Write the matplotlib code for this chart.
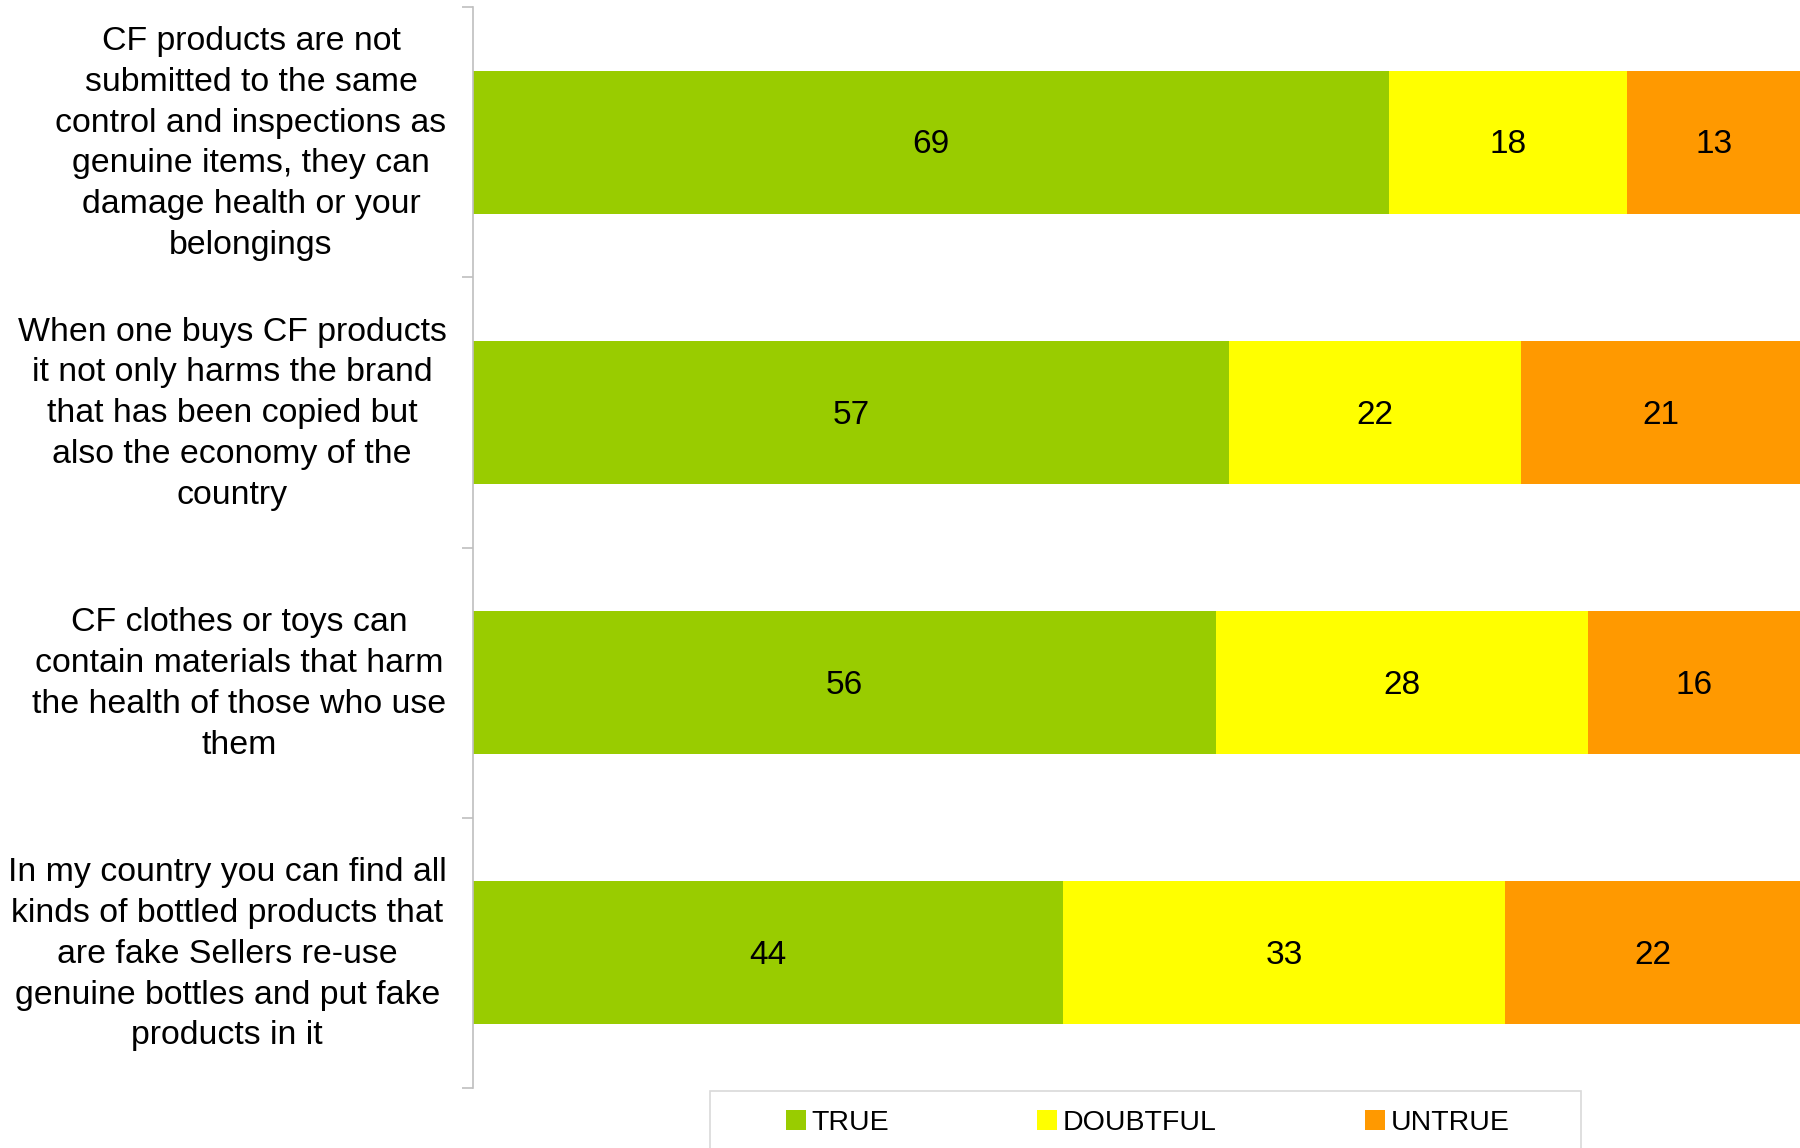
import numpy as np
import matplotlib.pyplot as plt
import matplotlib.transforms as mtransforms
from matplotlib.patches import Rectangle

plt.rcParams['font.family'] = ['Liberation Sans', 'DejaVu Sans']

statements = [
    "CF products are not\nsubmitted to the same\ncontrol and inspections as\ngenuine items, they can\ndamage health or your\nbelongings",
    "When one buys CF products\nit not only harms the brand\nthat has been copied but\nalso the economy of the\ncountry",
    "CF clothes or toys can\ncontain materials that harm\nthe health of those who use\nthem",
    "In my country you can find all\nkinds of bottled products that\nare fake Sellers re-use\ngenuine bottles and put fake\nproducts in it",
]
true_vals = [69, 57, 56, 44]
doubtful_vals = [18, 22, 28, 33]
untrue_vals = [13, 21, 16, 22]

series = [("TRUE", true_vals, "#99CC00"),
          ("DOUBTFUL", doubtful_vals, "#FFFF00"),
          ("UNTRUE", untrue_vals, "#FF9900")]

# 100% stacked: normalise each row
totals = np.array(true_vals) + np.array(doubtful_vals) + np.array(untrue_vals)

fig = plt.figure(figsize=(18, 11.48), dpi=100)
ax = fig.add_axes([473 / 1800, 1 - 1088 / 1148, 1 - 473 / 1800, (1088 - 7) / 1148])

y = np.arange(len(statements))
left = np.zeros(len(statements))
handles = []
for name, vals, col in series:
    share = np.array(vals) / totals * 100
    bars = ax.barh(y, share, left=left, height=0.53, color=col, label=name)
    handles.append(bars)
    for yi, l, s, v in zip(y, left, share, vals):
        ax.text(l + s / 2, yi + 0.01, str(v), ha='center', va='center', fontsize=24)
    left += share

ax.set_xlim(0, 100)
ax.set_ylim(len(statements) - 0.5, -0.5)

# category labels drawn as text so their vertical position can be tuned
lab_tr = ax.get_yaxis_transform() + mtransforms.ScaledTranslation(
    -19 / 72, -1 / 72, fig.dpi_scale_trans)
for yi, txt in zip(y, statements):
    ax.text(0, yi, txt, transform=lab_tr, ha='right', va='center',
            multialignment='center', linespacing=1.41, fontsize=24.4)

ax.set_yticks([])
ax.set_yticks(np.arange(-0.5, len(statements), 1), minor=True)
ax.tick_params(axis='y', which='minor', length=8, color='#BFBFBF', width=1.2, direction='out')
ax.set_xticks([])
for s in ['top', 'right', 'bottom']:
    ax.spines[s].set_visible(False)
ax.spines['left'].set_color('#BFBFBF')
ax.spines['left'].set_linewidth(1.2)

# legend frame (runs off the bottom of the figure)
fig.patches.append(Rectangle((710 / 1800, -0.02), (1581 - 710) / 1800, 0.02 + 57 / 1148,
                             transform=fig.transFigure, fill=False,
                             edgecolor='#D9D9D9', linewidth=1.2))
leg = fig.legend(handles=handles, loc='center left',
                 bbox_to_anchor=(786 / 1800, 1 - 1123 / 1148), ncol=3,
                 fontsize=20.5, frameon=False,
                 handlelength=0.7, handleheight=0.7, handletextpad=0.2,
                 columnspacing=5.2, borderpad=0, borderaxespad=0)

fig.savefig("out.png", dpi=100)
